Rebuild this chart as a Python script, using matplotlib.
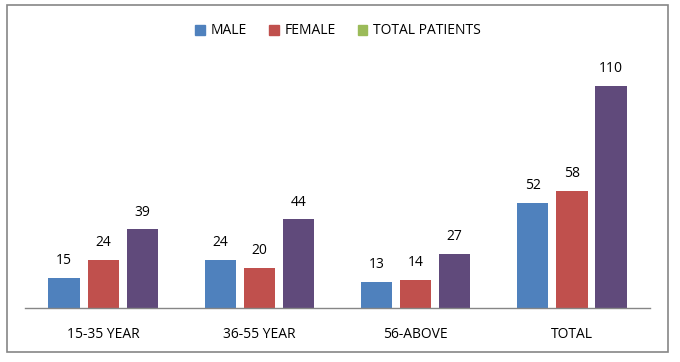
import numpy as np
import matplotlib.pyplot as plt
from matplotlib.patches import Patch, Rectangle

plt.rcParams['font.family'] = ['Open Sans', 'DejaVu Sans']

# data
categories = ['15-35 YEAR', '36-55 YEAR', '56-ABOVE', 'TOTAL']
male = [15, 24, 13, 52]
female = [24, 20, 14, 58]
total_patients = [39, 44, 27, 110]
series_names = ['MALE', 'FEMALE', 'TOTAL PATIENTS']

bar_colors = ['#4F81BD', '#C0504D', '#604A7B']
legend_colors = ['#4F81BD', '#C0504D', '#9BBB59']

fig = plt.figure(figsize=(6.8, 3.62), dpi=100)
ax = fig.add_axes([25 / 680, 1 - 308 / 362, 625 / 680, 242 / 362])

x = np.arange(len(categories))
w = 0.2
step = 0.25
for i, vals in enumerate([male, female, total_patients]):
    bars = ax.bar(x + (i - 1) * step, vals, w, color=bar_colors[i])
    for b, v in zip(bars, vals):
        ax.annotate(str(v), (b.get_x() + b.get_width() / 2, v),
                    xytext=(0, 7), textcoords='offset points',
                    ha='center', va='bottom', fontsize=10, color='black')

ax.set_xlim(-0.5, len(categories) - 0.5)
ax.set_ylim(0, 120)
ax.set_xticks(x)
ax.set_xticklabels(categories, fontsize=10)
ax.tick_params(axis='x', length=0, pad=14)
ax.set_yticks([])
for s in ['top', 'right', 'left']:
    ax.spines[s].set_visible(False)
ax.spines['bottom'].set_color('#868686')
ax.spines['bottom'].set_linewidth(1.0)

# chart border
fig.patches.append(Rectangle((7 / 680, 1 - 352 / 362), 661 / 680, 347 / 362,
                             transform=fig.transFigure, fill=False,
                             edgecolor='#868686', linewidth=1.2))

handles = [Patch(color=c) for c in legend_colors]
fig.legend(handles, series_names, loc='center', ncol=3,
           bbox_to_anchor=(338 / 680, 1 - 31 / 362), frameon=False,
           fontsize=10, handlelength=0.7, handleheight=0.7,
           handletextpad=0.4, columnspacing=1.6)

fig.savefig('out.png', dpi=100)
